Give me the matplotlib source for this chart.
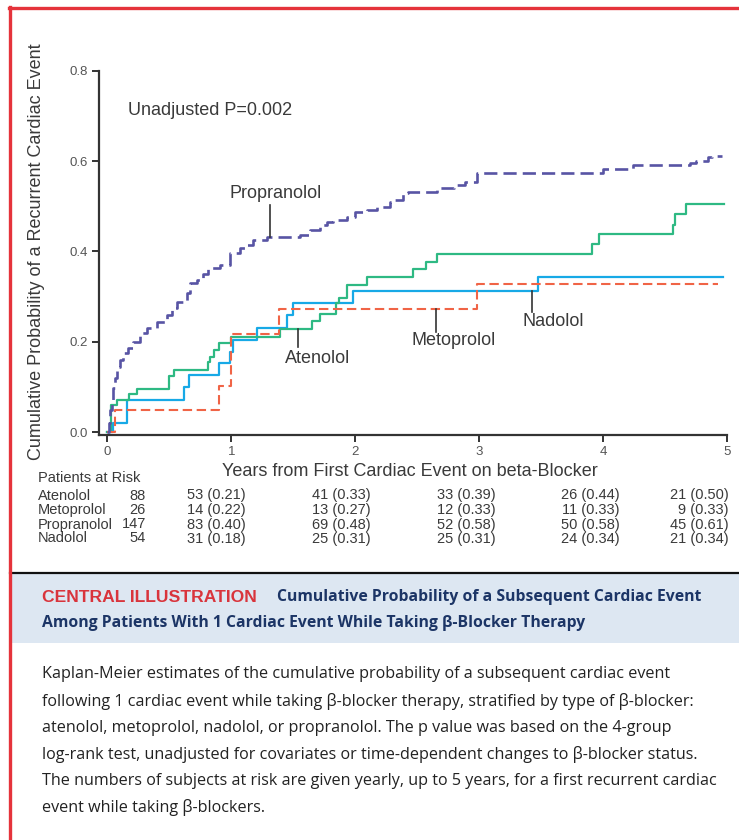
import matplotlib
matplotlib.use("Agg")
import matplotlib.pyplot as plt
from matplotlib.lines import Line2D
from matplotlib.patches import Rectangle

plt.rcParams['font.family'] = ['Liberation Sans', 'DejaVu Sans']

# Kaplan-Meier step data (years, cumulative probability)
aten_t = [0, 0.027, 0.081, 0.178, 0.242, 0.500, 0.541, 0.815, 0.829, 0.864, 0.904, 0.998,
          1.394, 1.652, 1.717, 1.842, 1.866, 1.932, 2.094, 2.470, 2.570, 2.665, 3.910,
          3.969, 4.568, 4.582, 4.671, 4.977]
aten_p = [0, 0.060, 0.071, 0.084, 0.096, 0.125, 0.138, 0.156, 0.167, 0.182, 0.197, 0.210,
          0.229, 0.246, 0.261, 0.285, 0.298, 0.326, 0.344, 0.362, 0.377, 0.394, 0.417,
          0.438, 0.459, 0.483, 0.505, 0.505]

meto_t = [0, 0.062, 0.902, 0.998, 1.388, 2.986, 4.93]
meto_p = [0, 0.049, 0.103, 0.217, 0.272, 0.328, 0.328]

nado_t = [0, 0.048, 0.161, 0.621, 0.659, 0.902, 0.990, 1.017, 1.211, 1.453, 1.501,
          1.981, 3.479, 4.97]
nado_p = [0, 0.021, 0.071, 0.101, 0.127, 0.153, 0.178, 0.204, 0.230, 0.260, 0.285,
          0.313, 0.343, 0.343]

prop_t = [0, 0.01, 0.022, 0.035, 0.048, 0.06, 0.076, 0.10, 0.129, 0.169, 0.21, 0.264,
          0.318, 0.399, 0.479, 0.52, 0.56, 0.641, 0.667, 0.722, 0.77, 0.815, 0.91, 0.99,
          1.071, 1.13, 1.178, 1.287, 1.555, 1.636, 1.717, 1.77, 1.824, 1.932, 2.0, 2.094,
          2.175, 2.28, 2.32, 2.389, 2.43, 2.66, 2.80, 2.89, 2.981, 4.003, 4.245, 4.70,
          4.75, 4.85, 4.88, 4.96]
prop_p = [0, 0.02, 0.049, 0.07, 0.097, 0.12, 0.145, 0.16, 0.175, 0.186, 0.2, 0.219,
          0.23, 0.245, 0.26, 0.275, 0.289, 0.308, 0.33, 0.337, 0.35, 0.363, 0.37, 0.396,
          0.407, 0.415, 0.425, 0.433, 0.437, 0.448, 0.459, 0.465, 0.47, 0.477, 0.488, 0.492,
          0.499, 0.51, 0.515, 0.529, 0.532, 0.54, 0.547, 0.554, 0.573, 0.582, 0.591, 0.596,
          0.601, 0.608, 0.611, 0.611]

# patients at risk table
groups = ["Atenolol", "Metoprolol", "Propranolol", "Nadolol"]
at_risk_0 = ["88", "26", "147", "54"]
at_risk = [
    ["53 (0.21)", "41 (0.33)", "33 (0.39)", "26 (0.44)", "21 (0.50)"],
    ["14 (0.22)", "13 (0.27)", "12 (0.33)", "11 (0.33)", "9 (0.33)"],
    ["83 (0.40)", "69 (0.48)", "52 (0.58)", "50 (0.58)", "45 (0.61)"],
    ["31 (0.18)", "25 (0.31)", "25 (0.31)", "24 (0.34)", "21 (0.34)"],
]

caption = [
    "Kaplan-Meier estimates of the cumulative probability of a subsequent cardiac event",
    "following 1 cardiac event while taking \u03b2-blocker therapy, stratified by type of \u03b2-blocker:",
    "atenolol, metoprolol, nadolol, or propranolol. The p value was based on the 4-group",
    "log-rank test, unadjusted for covariates or time-dependent changes to \u03b2-blocker status.",
    "The numbers of subjects at risk are given yearly, up to 5 years, for a first recurrent cardiac",
    "event while taking \u03b2-blockers.",
]

W, H = 739, 840
fig = plt.figure(figsize=(W / 100, H / 100), dpi=100)


def fx(x):
    return x / W


def fy(y):
    return 1 - y / H


txt = "#3a3a3a"
ax = fig.add_axes([fx(99.3), fy(435), fx(727) - fx(99.3), fy(70.7) - fy(435)])

ax.step(nado_t, nado_p, where="post", color="#17a9e6", lw=1.6)
ax.step(aten_t, aten_p, where="post", color="#2eb983", lw=1.6)
ax.step(meto_t, meto_p, where="post", color="#f06446", lw=1.5, dashes=(4.5, 2.2))
ax.step(prop_t, prop_p, where="post", color="#5854a4", lw=1.9, dashes=(5, 2.3))

ax.set_xlim(-0.0646, 5.0016)
ax.set_ylim(-0.006, 0.8)
ax.set_xticks([0, 1, 2, 3, 4, 5])
ax.set_yticks([0.0, 0.2, 0.4, 0.6, 0.8])
ax.set_yticklabels(["0.0", "0.2", "0.4", "0.6", "0.8"])
for s in ["top", "right"]:
    ax.spines[s].set_visible(False)
for s in ["left", "bottom"]:
    ax.spines[s].set_color("#333333")
    ax.spines[s].set_linewidth(1.6)
ax.tick_params(length=5, width=1.4, color="#333333", labelsize=9.5,
               labelcolor="#555555", pad=3)

# curve labels with pointer lines
lc = "#333333"
ax.plot([1.313, 1.313], [0.433, 0.503], color=lc, lw=1.2)
ax.text(1.362, 0.529, "Propranolol", ha="center", va="center", fontsize=13, color=txt)
ax.plot([1.537, 1.537], [0.229, 0.189], color=lc, lw=1.2)
ax.text(1.70, 0.164, "Atenolol", ha="center", va="center", fontsize=13, color=txt)
ax.plot([2.65, 2.65], [0.272, 0.2226], color=lc, lw=1.2)
ax.text(2.793, 0.204, "Metoprolol", ha="center", va="center", fontsize=13, color=txt)
ax.plot([3.43, 3.43], [0.313, 0.267], color=lc, lw=1.2)
ax.text(3.60, 0.245, "Nadolol", ha="center", va="center", fontsize=13, color=txt)
ax.text(0.17, 0.713, "Unadjusted P=0.002", ha="left", va="center", fontsize=13, color=txt)

fig.text(fx(37), fy(252), "Cumulative Probability of a Recurrent Cardiac Event",
         rotation=90, ha="center", va="center", fontsize=13, color=txt)
fig.text(fx(410), fy(471), "Years from First Cardiac Event on beta-Blocker",
         ha="center", va="center", fontsize=13, color=txt)

# at risk table
tfs = 10.5
fig.text(fx(37.7), fy(478.5), "Patients at Risk", ha="left", va="center", fontsize=tfs, color=txt)
row_y = [495.5, 510, 524.5, 538.5]
col_x = [245.3, 370.3, 495.3, 619.3, 728.8]
for i, g in enumerate(groups):
    fig.text(fx(37.7), fy(row_y[i]), g, ha="left", va="center", fontsize=tfs, color=txt)
    fig.text(fx(146), fy(row_y[i]), at_risk_0[i], ha="right", va="center", fontsize=tfs, color=txt)
    for j, v in enumerate(at_risk[i]):
        fig.text(fx(col_x[j]), fy(row_y[i]), v, ha="right", va="center", fontsize=tfs, color=txt)

# frame and caption panel
red = "#e5333b"
fig.add_artist(Rectangle((fx(10), fy(643.3)), 1 - fx(10), fy(573) - fy(643.3),
                         transform=fig.transFigure, facecolor="#dde7f2", edgecolor="none"))
fig.add_artist(Line2D([fx(10), 1], [fy(572.7), fy(572.7)], transform=fig.transFigure,
                      color="#111111", lw=1.6))
fig.add_artist(Line2D([fx(8.5), 1], [fy(8.3), fy(8.3)], transform=fig.transFigure,
                      color=red, lw=2.4))
fig.add_artist(Line2D([fx(10), fx(10)], [fy(7), 0], transform=fig.transFigure,
                      color=red, lw=2.4))

cap_font = ["Open Sans", "DejaVu Sans"]
fig.text(fx(42.5), fy(597.3), "CENTRAL ILLUSTRATION", ha="left", va="center",
         fontsize=12.6, fontweight="bold", fontstretch="normal", color="#d9343c",
         family=["Liberation Sans", "DejaVu Sans"])
fig.text(fx(277), fy(597.3), "Cumulative Probability of a Subsequent Cardiac Event",
         ha="left", va="center", fontsize=11.3, fontweight="bold", color="#1c3566",
         family=cap_font)
fig.text(fx(42.5), fy(622.7), "Among Patients With 1 Cardiac Event While Taking \u03b2-Blocker Therapy",
         ha="left", va="center", fontsize=11.3, fontweight="bold", color="#1c3566",
         family=cap_font)

cap_y = [674.3, 701, 727.7, 754.3, 781, 807.7]
for y, line in zip(cap_y, caption):
    fig.text(fx(42.5), fy(y), line, ha="left", va="center", fontsize=11.6, color="#222222",
             family=cap_font)

fig.savefig("out.png", dpi=100)
